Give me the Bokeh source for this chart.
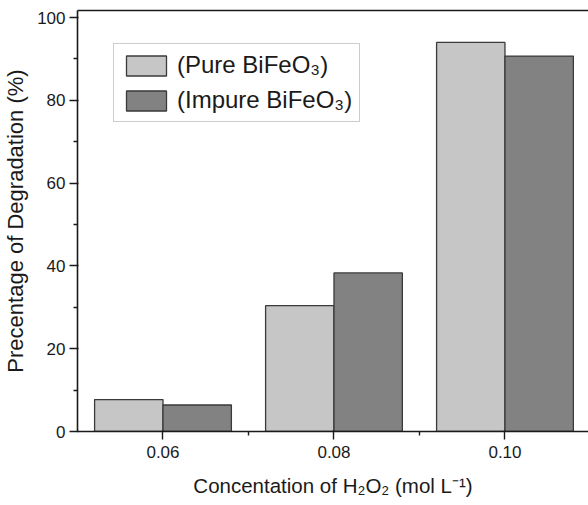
from bokeh.plotting import figure
from bokeh.models import ColumnDataSource, Range1d, FixedTicker, LinearAxis, Legend, LegendItem
from bokeh.transform import dodge
from bokeh.embed import file_html
from bokeh.resources import INLINE

conc = [0.06, 0.08, 0.10]
pure = [7.7, 30.4, 94.0]
impure = [6.4, 38.3, 90.7]
x_ticks = [0.06, 0.08, 0.10]
x_tick_labels = {0.06: "0.06", 0.08: "0.08", 0.1: "0.10"}
y_ticks = [0, 20, 40, 60, 80, 100]
series_names = ["(Pure BiFeO\u2083)", "(Impure BiFeO\u2083)"]

src = ColumnDataSource(dict(conc=conc, pure=pure, impure=impure))

FONT = "Liberation Sans"
p = figure(width=588, height=505, output_backend="svg", toolbar_location=None,
           x_range=Range1d(0.05, 0.10977), y_range=Range1d(0, 101.7),
           min_border_left=77, min_border_top=10, min_border_bottom=74, min_border_right=0,
           x_axis_label="Concentation of H\u2082O\u2082 (mol L\u207b\u00b9)",
           y_axis_label="Precentage of Degradation (%)")
p.outline_line_color = None
p.grid.visible = False
p.background_fill_color = "white"
p.border_fill_color = "white"

r1 = p.vbar(x=dodge("conc", -0.004, range=p.x_range), top="pure", width=0.008, bottom=0,
            source=src, fill_color="#c6c6c6", line_color="#3a3a3a", line_width=1.3)
r2 = p.vbar(x=dodge("conc", 0.004, range=p.x_range), top="impure", width=0.008, bottom=0,
            source=src, fill_color="#818281", line_color="#3a3a3a", line_width=1.3)

for ax in (p.xaxis[0], p.yaxis[0]):
    ax.axis_line_color = "#1a1a1a"
    ax.axis_line_width = 1.6
    ax.major_tick_line_color = "#1a1a1a"
    ax.minor_tick_line_color = "#1a1a1a"
    ax.major_tick_line_width = 1.4
    ax.minor_tick_line_width = 1.4
    ax.major_tick_in = 1
    ax.major_tick_out = 8
    ax.minor_tick_in = 0
    ax.minor_tick_out = 4
    ax.major_label_text_font = FONT
    ax.major_label_text_font_size = "17px"
    ax.major_label_text_color = "#1a1a1a"
    ax.axis_label_text_font = FONT
    ax.axis_label_text_font_style = "normal"
    ax.axis_label_text_color = "#1a1a1a"

p.xaxis[0].axis_label_text_font_size = "20.5px"
p.yaxis[0].axis_label_text_font_size = "22px"
p.xaxis[0].ticker = FixedTicker(ticks=x_ticks, minor_ticks=[0.07, 0.09])
p.xaxis[0].major_label_overrides = x_tick_labels
p.xaxis[0].major_label_standoff = 6
p.xaxis[0].axis_label_standoff = 13
p.yaxis[0].ticker = FixedTicker(ticks=y_ticks, minor_ticks=[10, 30, 50, 70, 90])
p.yaxis[0].major_label_standoff = 4
p.yaxis[0].axis_label_standoff = 6

top_axis = LinearAxis(axis_line_color="#1a1a1a", axis_line_width=1.6,
                      major_tick_line_color=None, minor_tick_line_color=None,
                      major_label_text_font_size="0px")
top_axis.ticker = FixedTicker(ticks=[])
p.add_layout(top_axis, "above")

legend = Legend(items=[LegendItem(label=series_names[0], renderers=[r1]),
                       LegendItem(label=series_names[1], renderers=[r2])],
                location=(36, 309), orientation="vertical",
                label_text_font=FONT, label_text_font_size="24px", label_text_color="#1a1a1a",
                glyph_width=50, glyph_height=25, label_standoff=6, spacing=7,
                padding=7, margin=0, border_line_color="#999999", border_line_width=1.2,
                background_fill_alpha=1.0)
p.add_layout(legend, "center")

open("out.html", "w").write(file_html(p, INLINE))
